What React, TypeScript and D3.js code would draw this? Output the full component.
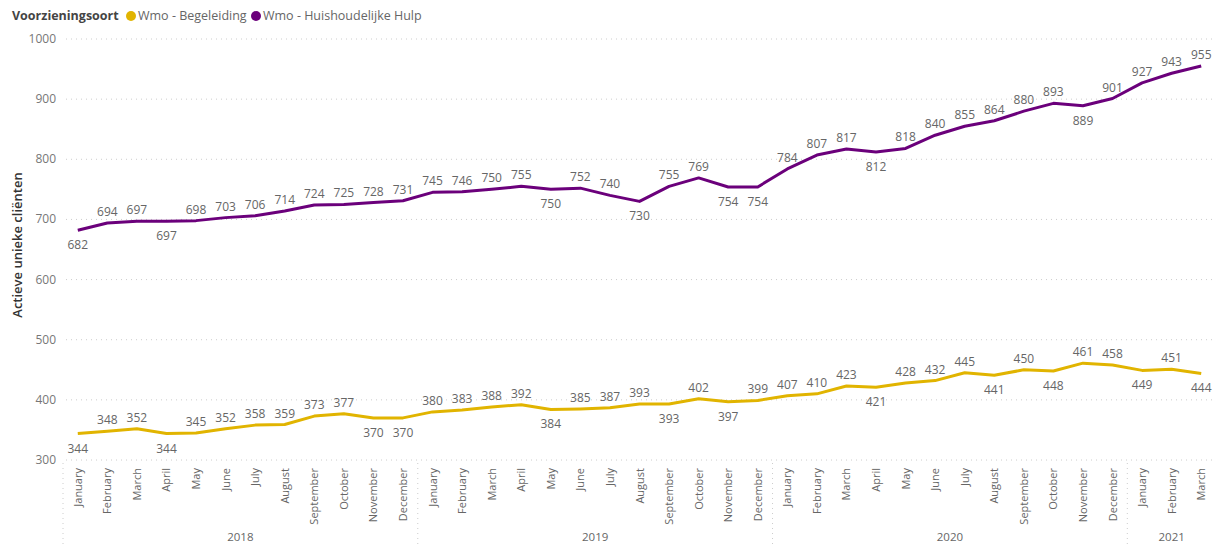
import React from "react";
import * as d3 from "d3";

const months = ["January","February","March","April","May","June","July","August","September","October","November","December"];
const years = ["2018", "2019", "2020", "2021"];
const monthsPerYear = [12, 12, 12, 3];
const yTicks = [300, 400, 500, 600, 700, 800, 900, 1000];

const begeleiding = [
  344, 348, 352, 344, 345, 352, 358, 359, 373, 377, 370, 370,
  380, 383, 388, 392, 384, 385, 387, 393, 393, 402, 397, 399,
  407, 410, 423, 421, 428, 432, 445, 441, 450, 448, 461, 458,
  449, 451, 444,
];
const huishoudelijk = [
  682, 694, 697, 697, 698, 703, 706, 714, 724, 725, 728, 731,
  745, 746, 750, 755, 750, 752, 740, 730, 755, 769, 754, 754,
  784, 807, 817, 812, 818, 840, 855, 864, 880, 893, 889, 901,
  927, 943, 955,
];

const series = [
  { name: "Wmo - Begeleiding", color: "#E1B400", values: begeleiding },
  { name: "Wmo - Huishoudelijke Hulp", color: "#6B007B", values: huishoudelijk },
];

const W = 1216, H = 547;
const FONT = "'Segoe UI', 'Open Sans', 'Noto Sans', sans-serif";

export default function App() {
  const keys: string[] = [];
  years.forEach((y, yi) => {
    for (let m = 0; m < monthsPerYear[yi]; m++) keys.push(`${y}-${m}`);
  });
  const x = d3.scaleBand<string>().domain(keys).range([63, 1216]);
  const y = d3.scaleLinear().domain([300, 1000]).range([460, 39]);
  const bw = x.bandwidth();
  const cx = (i: number) => (x(keys[i]) as number) + bw / 2;
  const line = d3.line<number>().x((_, i) => cx(i)).y((v) => y(v)).curve(d3.curveLinear);

  const isBelow = (vals: number[], i: number) => {
    const prev = i > 0 ? vals[i - 1] : Infinity;
    const next = i < vals.length - 1 ? vals[i + 1] : Infinity;
    return vals[i] <= prev && vals[i] <= next;
  };

  let offset = 0;
  const yearGroups = years.map((yr, yi) => {
    const start = offset;
    offset += monthsPerYear[yi];
    return { yr, start, end: offset };
  });

  return (
    <svg width={W} height={H} style={{ position: "absolute", left: 0, top: 0, fontFamily: FONT }}>
      <rect width={W} height={H} fill="#fff" />
      {/* legend */}
      <g fontSize={12.5}>
        <text x={12} y={20} fontWeight={700} fill="#444">Voorzieningsoort</text>
        <circle cx={131} cy={16} r={5} fill={series[0].color} />
        <text x={138} y={20} fill="#666">{series[0].name}</text>
        <circle cx={256} cy={16} r={5} fill={series[1].color} />
        <text x={263} y={20} fill="#666">{series[1].name}</text>
      </g>
      {/* gridlines + y ticks */}
      {yTicks.map((t) => (
        <g key={t}>
          <line x1={66} x2={1216} y1={y(t)} y2={y(t)} stroke="#ccc" strokeWidth={1} strokeDasharray="1,4" />
          <text x={56} y={y(t) + 4} textAnchor="end" fontSize={12} fill="#777">{t}</text>
        </g>
      ))}
      <text transform={`translate(22,245) rotate(-90)`} textAnchor="middle" fontSize={13} fontWeight={600} fill="#333">
        Actieve unieke cliënten
      </text>
      {/* x axis: year separators */}
      {yearGroups.map((g) => (
        <line key={"sep" + g.yr} x1={x(keys[g.start])} x2={x(keys[g.start])} y1={463} y2={547} stroke="#ccc" strokeDasharray="1,4" />
      ))}
      {keys.map((k, i) => (
        <text key={k} transform={`translate(${cx(i) + 4},468) rotate(-90)`} textAnchor="end" fontSize={11} fill="#666">
          {months[Number(k.split("-")[1])]}
        </text>
      ))}
      {yearGroups.map((g) => {
        const x0 = x(keys[g.start]) as number;
        const x1 = (x(keys[g.end - 1]) as number) + bw;
        return (
          <text key={"yr" + g.yr} x={(x0 + x1) / 2} y={541} textAnchor="middle" fontSize={11.5} fill="#666">{g.yr}</text>
        );
      })}
      {/* lines */}
      {series.map((s) => (
        <path key={s.name} d={line(s.values) as string} fill="none" stroke={s.color} strokeWidth={3} strokeLinejoin="round" />
      ))}
      {/* data labels */}
      {series.map((s) =>
        s.values.map((v, i) => {
          const below = isBelow(s.values, i);
          return (
            <text key={s.name + i} x={cx(i)} y={below ? y(v) + 19 : y(v) - 7} textAnchor="middle" fontSize={12} fill="#666">
              {v}
            </text>
          );
        })
      )}
    </svg>
  );
}
